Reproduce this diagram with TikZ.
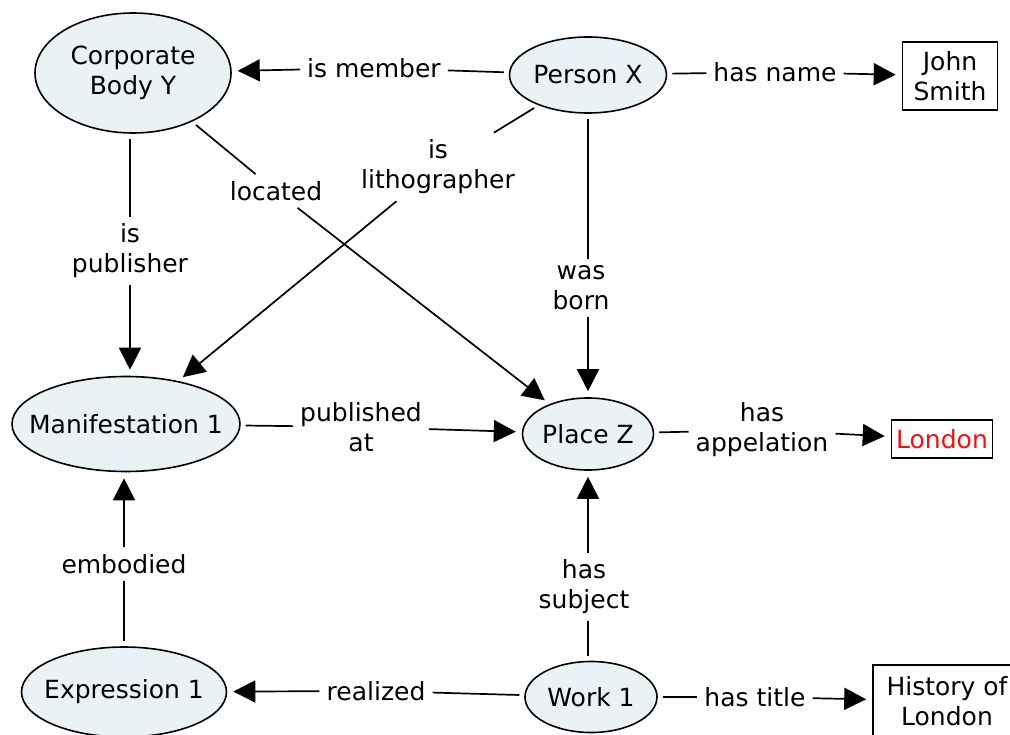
\documentclass[tikz,border=0pt]{standalone}
\usepackage{fontspec}
\setmainfont{DejaVu Sans}
\usetikzlibrary{shapes.geometric,arrows.meta}
\definecolor{conceptfill}{HTML}{EAF2F5}
\definecolor{valred}{HTML}{F01010}
\newcommand\ztext[1]{\makebox[0pt]{#1}}
\begin{document}
\begin{tikzpicture}[x=1pt,y=-1pt,
  every node/.style={font=\fontsize{25}{30}\selectfont, align=center},
  concept/.style={ellipse, draw, line width=1.6pt, fill=conceptfill, inner sep=0pt},
  valbox/.style={rectangle, draw, line width=1.6pt, inner sep=0pt},
  lbl/.style={inner sep=7pt},
  conn/.style={line width=1.7pt, shorten <=5pt},
  arr/.style={line width=1.7pt, -{Triangle[length=22pt,width=22pt]}, shorten >=6pt},
]
\useasboundingbox (0,0) rectangle (1010,735);

% concepts
\node[concept, minimum width=196pt, minimum height=120pt] (cb) at (133,73) {\ztext{Corporate}\\\ztext{Body Y}};
\node[concept, minimum width=157pt, minimum height=76pt] (px) at (588,75) {\ztext{Person X}};
\node[valbox, minimum width=95pt, minimum height=68pt] (js) at (950,76) {John\\Smith};
\node[concept, minimum width=228pt, minimum height=95pt] (m1) at (126,424) {\ztext{Manifestation 1}};
\node[concept, minimum width=131pt, minimum height=72pt] (pz) at (588,434) {\ztext{Place Z}};
\node[valbox, minimum width=101pt, minimum height=38pt, text=valred] (ld) at (942,439) {London};
\node[concept, minimum width=205pt, minimum height=90pt] (e1) at (124,692) {\ztext{Expression 1}};
\node[concept, minimum width=132pt, minimum height=71pt] (w1) at (591,697) {\ztext{Work 1}};
\node[valbox, minimum width=148pt, minimum height=72pt] (hl) at (947,701) {History of\\London};

% labels
\node[lbl] (lmem) at (374,68) {is member};
\node[lbl] (lname) at (775,72) {has name};
\node[lbl] (llith) at (438,167) {is\\lithographer};
\node[lbl] (lloc) at (276,191) {located};
\node[lbl] (lpub) at (130,251) {is\\publisher};
\node[lbl] (lborn) at (581,288) {was\\born};
\node[lbl] (lpubat) at (361,427) {published\\at};
\node[lbl] (lapp) at (762,430) {has\\appelation};
\node[lbl] (lemb) at (124,564) {embodied};
\node[lbl] (lsubj) at (584,587) {has\\subject};
\node[lbl] (lreal) at (376,691) {realized};
\node[lbl] (ltitle) at (755,697) {has title};

% connectors
\draw[conn] (px) -- (lmem);   \draw[arr] (lmem) -- (cb);
\draw[conn] (px) -- (lname);  \draw[arr] (lname) -- (js);
\draw[conn] (px) -- (llith);  \draw[arr] (llith) -- (m1);
\draw[conn] (px.south) -- (px.south |- lborn.north);
\draw[arr] (lborn.south -| pz.north) -- (pz.north);
\draw[conn] (lpub.north |- cb.south) -- (lpub.north);
\draw[arr] (lpub.south) -- (lpub.south |- m1.north);
\draw[conn] (cb) -- (lloc);   \draw[arr] (lloc) -- (pz);
\draw[conn] (m1) -- (lpubat); \draw[arr] (lpubat) -- (pz);
\draw[conn] (pz) -- (lapp);   \draw[arr] (lapp) -- (ld);
\draw[conn] (w1.north -| pz.south) -- (lsubj.south -| pz.south);
\draw[arr] (lsubj.north -| pz.south) -- (pz.south);
\draw[conn] (w1) -- (lreal);  \draw[arr] (lreal) -- (e1);
\draw[conn] (lemb.south |- e1.north) -- (lemb.south);
\draw[arr] (lemb.north) -- (lemb.north |- m1.south);
\draw[conn] (w1) -- (ltitle); \draw[arr] (ltitle) -- (hl);
\end{tikzpicture}
\end{document}
